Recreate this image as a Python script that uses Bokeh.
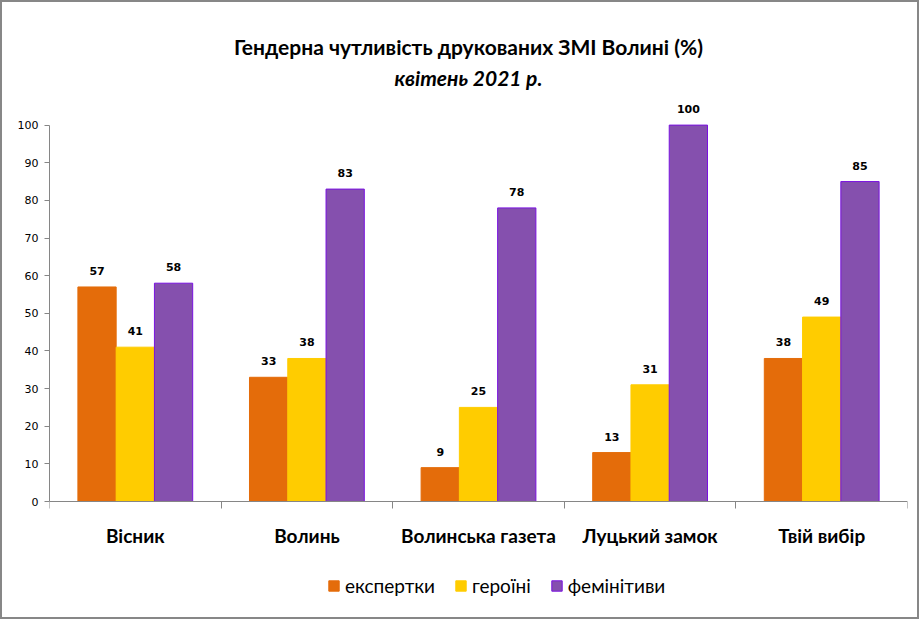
import numpy as np
from bokeh.plotting import figure
from bokeh.models import Range1d, FixedTicker, ColumnDataSource, Legend, LegendItem, Label
from bokeh.core.properties import value
from bokeh.embed import file_html
from bokeh.resources import INLINE

categories = ["Вісник", "Волинь", "Волинська газета", "Луцький замок", "Твій вибір"]
series_names = ["експертки", "героїні", "фемінітиви"]
experts = [57, 33, 9, 13, 38]
heroines = [41, 38, 25, 31, 49]
feminitives = [58, 83, 78, 100, 85]
y_ticks = [0, 10, 20, 30, 40, 50, 60, 70, 80, 90, 100]
title_line1 = "Гендерна чутливість друкованих ЗМІ Волині (%)"
title_line2 = "квітень 2021 р."

fills = ["#E46C0A", "#FFCC00", "#8550AE"]
lines = ["#E46C0A", "#FFCC00", "#7A12E0"]
offsets = [-0.223, 0.0, 0.223]
bar_w = 0.223

p = figure(width=919, height=619, output_backend="svg", toolbar_location=None, title=None,
           x_range=Range1d(0, len(categories)), y_range=Range1d(-28.69, 132.57),
           min_border_left=47, min_border_right=14, min_border_top=0, min_border_bottom=12)
p.styles = {"border": "2px solid #878787"}
p.outline_line_color = None
p.xgrid.visible = False
p.ygrid.visible = False
p.background_fill_color = "white"
p.border_fill_color = "white"

centers = np.arange(len(categories)) + 0.5
renderers = []
for vals, off, fc, lc in zip([experts, heroines, feminitives], offsets, fills, lines):
    src = ColumnDataSource(dict(x=centers + off, top=vals, lab=[str(v) for v in vals]))
    r = p.vbar(x="x", top="top", width=bar_w, source=src, fill_color=fc, line_color=lc, line_width=1)
    renderers.append(r)
    p.text(x="x", y="top", text="lab", source=src, text_align="center", text_baseline="middle",
           y_offset=-16, text_font=value("DejaVu Sans"), text_font_style="bold",
           text_font_size="11px", text_color="black")

# category labels under the axis
cat_src = ColumnDataSource(dict(x=centers, y=np.zeros(len(categories)), lab=categories))
p.text(x="x", y="y", text="lab", source=cat_src, text_align="center", text_baseline="middle",
       y_offset=34, text_font=value("Lato"), text_font_style="bold", text_font_size="19px",
       text_color="black")

# y axis
ya = p.yaxis[0]
ya.ticker = FixedTicker(ticks=y_ticks)
ya.bounds = (0, 100)
ya.axis_line_color = "#868686"
ya.major_tick_line_color = "#868686"
ya.major_tick_out = 5
ya.major_tick_in = 0
ya.minor_tick_line_color = None
ya.major_label_text_font = "DejaVu Sans"
ya.major_label_text_font_size = "11px"
ya.major_label_text_color = "black"
ya.major_label_standoff = 6

# x axis (drawn at y = 0, ticks between categories)
xa = p.xaxis[0]
xa.fixed_location = 0
xa.ticker = FixedTicker(ticks=[], minor_ticks=list(range(len(categories) + 1)))
xa.axis_line_color = "#868686"
xa.major_tick_line_color = None
xa.major_tick_out = 0
xa.major_tick_in = 0
xa.minor_tick_line_color = "#868686"
xa.minor_tick_out = 7
xa.minor_tick_in = 0
xa.major_label_text_font_size = "0px"
xa.major_label_standoff = 0

# legend
items = [LegendItem(label=n, renderers=[r]) for n, r in zip(series_names, renderers)]
legend = Legend(items=items, orientation="horizontal", location=(278, 12),
                label_text_font="Lato", label_text_font_size="19px", label_text_color="black",
                glyph_width=13, glyph_height=13, label_standoff=5, spacing=19,
                padding=0, margin=0, border_line_color=None, background_fill_alpha=0)
p.add_layout(legend, "center")

# titles
p.add_layout(Label(x=419, y=563, x_units="screen", y_units="screen", text=title_line1,
                   text_align="center", text_baseline="middle", text_font="Lato",
                   text_font_style="bold", text_font_size="21px", text_color="black"))
p.add_layout(Label(x=419, y=532, x_units="screen", y_units="screen", text=title_line2,
                   text_align="center", text_baseline="middle", text_font="Lato",
                   text_font_style="bold italic", text_font_size="21px", text_color="black"))

open("out.html", "w").write(file_html(p, INLINE))
